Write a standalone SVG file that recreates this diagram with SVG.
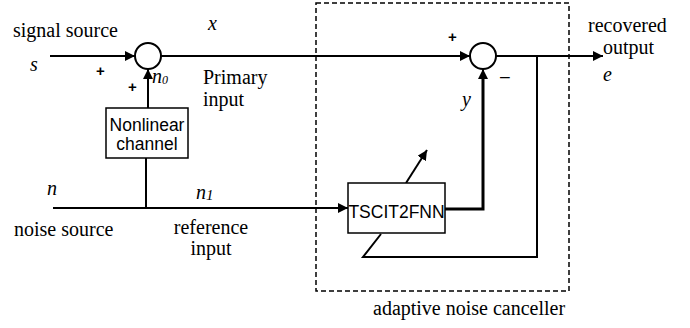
<svg xmlns="http://www.w3.org/2000/svg" width="690" height="328" viewBox="0 0 690 328">
<defs>
<marker id="ah" viewBox="0 0 10 10" refX="10" refY="5" markerWidth="10" markerHeight="10" markerUnits="userSpaceOnUse" orient="auto">
<path d="M0,0 L10,5 L0,10 z" fill="#000"/>
</marker>
</defs>
<style>
.ln{stroke:#000;stroke-width:2;fill:none}
.thick{stroke:#000;stroke-width:3;fill:none}
.box{stroke:#000;stroke-width:1.5;fill:#fff}
.sum{stroke:#000;stroke-width:2;fill:#fff}
.serif{font-family:'Liberation Serif','DejaVu Serif',serif;font-size:20px;fill:#000}
.it{font-family:'Liberation Serif','DejaVu Serif',serif;font-style:italic;font-size:20px;fill:#000}
.sans{font-family:'Liberation Sans','DejaVu Sans',sans-serif;font-size:17.5px;fill:#000}
.sign{font-family:'Liberation Sans','DejaVu Sans',sans-serif;font-size:15px;font-weight:bold;fill:#000}
</style>
<rect width="690" height="328" fill="#fff"/>
<g id="canceller">
<rect x="316" y="3" width="253" height="288" fill="none" stroke="#000" stroke-width="1.5" stroke-dasharray="5,3"/>
<text class="serif" x="373" y="315">adaptive noise canceller</text>
</g>
<g id="connectors">
<line class="ln" x1="50" y1="56" x2="135" y2="56" marker-end="url(#ah)"/>
<line class="ln" x1="161" y1="56" x2="470" y2="56" marker-end="url(#ah)"/>
<line class="ln" x1="496" y1="56" x2="603" y2="56" marker-end="url(#ah)"/>
<line class="ln" x1="148" y1="108" x2="148" y2="69" marker-end="url(#ah)"/>
<line class="ln" x1="53" y1="208" x2="348" y2="208" marker-end="url(#ah)"/>
<line class="ln" x1="146" y1="208" x2="146" y2="158"/>
<polyline class="thick" points="445,209 483,209 483,78"/>
<line class="ln" x1="483" y1="80" x2="483" y2="69" marker-end="url(#ah)"/>
<polyline class="ln" points="537,56 537,257 363,257 381,234"/>
<line class="ln" x1="406" y1="183" x2="427" y2="150" marker-end="url(#ah)"/>
</g>
<g id="sum1"><circle class="sum" cx="148" cy="56" r="13"/></g>
<g id="sum2"><circle class="sum" cx="483" cy="56" r="13"/></g>
<g id="nonlinear">
<rect class="box" x="106" y="108" width="82" height="50"/>
<text class="sans" x="147" y="131" text-anchor="middle">Nonlinear</text>
<text class="sans" x="147" y="150" text-anchor="middle">channel</text>
</g>
<g id="tscit">
<rect class="box" x="348" y="183" width="97" height="50"/>
<text class="sans" x="396.5" y="218" text-anchor="middle" font-size="16.5">TSCIT2FNN</text>
</g>
<g id="labels">
<text class="serif" x="13" y="37">signal source</text>
<text class="it" x="30" y="71">s</text>
<text class="sign" x="96" y="76">+</text>
<text class="sign" x="128" y="92">+</text>
<text class="it" x="152" y="83" font-size="16">n<tspan font-size="12" dy="1">0</tspan></text>
<text class="it" x="208" y="30" font-size="26">x</text>
<text class="serif" x="203" y="84">Primary</text>
<text class="serif" x="203" y="106">input</text>
<text class="sign" x="448" y="42">+</text>
<text class="sans" x="500" y="82">–</text>
<text class="it" x="462" y="106" font-size="18">y</text>
<text class="serif" x="588" y="32">recovered</text>
<text class="serif" x="603" y="54">output</text>
<text class="it" x="603" y="81" font-size="18">e</text>
<text class="it" x="47" y="195">n</text>
<text class="it" x="196" y="199" font-size="24">n<tspan font-size="15" dy="1">1</tspan></text>
<text class="serif" x="14" y="236">noise source</text>
<text class="serif" x="211" y="234" text-anchor="middle">reference</text>
<text class="serif" x="211" y="255" text-anchor="middle">input</text>
</g>
</svg>
